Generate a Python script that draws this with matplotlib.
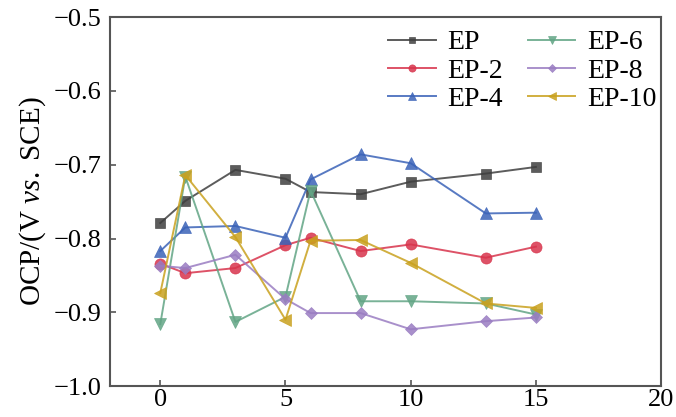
import matplotlib
matplotlib.use('Agg')
import matplotlib.pyplot as plt
from matplotlib.ticker import FuncFormatter

plt.rcParams['font.family'] = ['Liberation Serif', 'DejaVu Serif']
plt.rcParams['mathtext.fontset'] = 'custom'
plt.rcParams['mathtext.rm'] = 'Liberation Serif'
plt.rcParams['mathtext.it'] = 'Liberation Serif:italic'

# immersion time points
x = [0, 1, 3, 5, 6, 8, 10, 13, 15]

ep    = [-0.779, -0.749, -0.707, -0.719, -0.737, -0.740, -0.723, -0.712, -0.703]
ep_2  = [-0.834, -0.847, -0.840, -0.809, -0.799, -0.817, -0.808, -0.826, -0.811]
ep_4  = [-0.817, -0.785, -0.783, -0.799, -0.720, -0.686, -0.698, -0.766, -0.765]
ep_6  = [-0.916, -0.716, -0.913, -0.879, -0.735, -0.885, -0.885, -0.888, -0.903]
ep_8  = [-0.837, -0.840, -0.822, -0.882, -0.901, -0.901, -0.923, -0.912, -0.907]
ep_10 = [-0.874, -0.714, -0.798, -0.910, -0.803, -0.802, -0.833, -0.888, -0.894]

labels = ['EP', 'EP-2', 'EP-4', 'EP-6', 'EP-8', 'EP-10']
series = [ep, ep_2, ep_4, ep_6, ep_8, ep_10]
markers = ['s', 'o', '^', 'v', 'D', '<']
colors = ['#3f3f3f', '#d8344c', '#3b63b8', '#62a585', '#9a7dc2', '#c9a11e']
sizes = [7, 8, 8, 8, 6, 8]

fig = plt.figure(figsize=(6.76, 4.17), dpi=100)
ax = fig.add_axes([0.163, 0.074, 0.815, 0.885])

for y, lab, m, c, s in zip(series, labels, markers, colors, sizes):
    ax.plot(x, y, color=c, marker=m, markersize=s, linewidth=1.4,
            alpha=0.85, label=lab, markeredgewidth=0.5)

ax.set_xlim(-2, 20)
ax.set_ylim(-1.0, -0.5)
ax.set_xticks([0, 5, 10, 15, 20])
ax.set_yticks([-1.0, -0.9, -0.8, -0.7, -0.6, -0.5])
ax.yaxis.set_major_formatter(FuncFormatter(lambda v, p: ('%.1f' % v).replace('-', '\u2212')))
ax.tick_params(direction='in', length=4, width=1.2, labelsize=19, color='#555555')
ax.tick_params(axis='y', pad=6)
ax.tick_params(axis='x', pad=2)
for sp in ax.spines.values():
    sp.set_color('#555555')
    sp.set_linewidth(1.5)

ax.set_ylabel(r'OCP/(V $\mathit{vs.}$ SCE)', fontsize=21, labelpad=4)

ax.legend(ncol=2, frameon=False, fontsize=20, loc='upper left',
          bbox_to_anchor=(0.505, 0.965), borderaxespad=0, borderpad=0,
          handlelength=1.7, handletextpad=0.43, columnspacing=0.9,
          labelspacing=0.1, markerscale=0.65)

plt.savefig('out.png', dpi=100)
